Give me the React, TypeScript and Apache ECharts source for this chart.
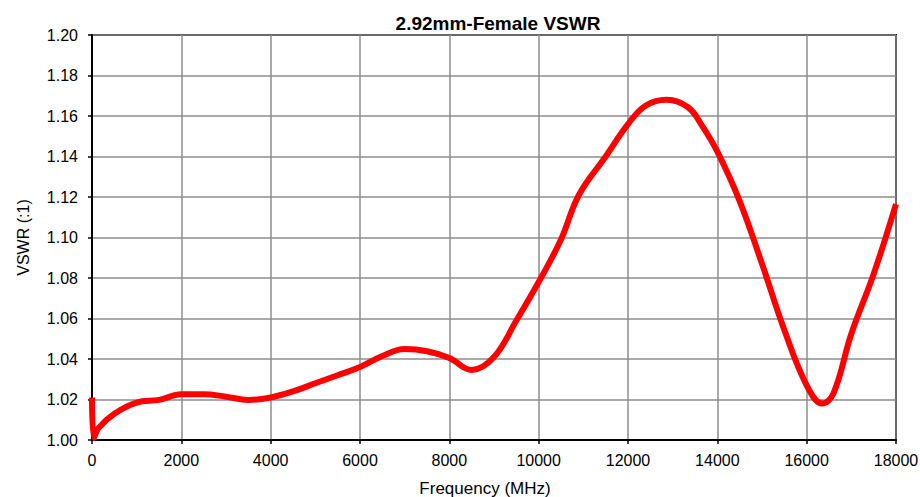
import React, { useEffect, useRef } from "react";
import * as echarts from "echarts";

const freqs = [0, 40, 150, 500, 1000, 1500, 2000, 2500, 3000, 3500, 4000, 4500, 5000, 5500, 6000, 6500, 7000, 7500, 8000, 8500, 9000, 9500, 10000, 10500, 10900, 11500, 12000, 12400, 12870, 13350, 13650, 14000, 14500, 15000, 15500, 16000, 16350, 16600, 17000, 17500, 18000];
const vswr = [1.021, 1.001, 1.006, 1.013, 1.0185, 1.0198, 1.0226, 1.0226, 1.0214, 1.0198, 1.021, 1.024, 1.028, 1.032, 1.036, 1.0415, 1.0449, 1.0438, 1.0405, 1.0346, 1.041, 1.059, 1.078, 1.099, 1.121, 1.140, 1.156, 1.1652, 1.168, 1.1642, 1.1555, 1.1424, 1.118, 1.087, 1.0543, 1.027, 1.018, 1.023, 1.0525, 1.082, 1.1165];

const titleText = "2.92mm-Female VSWR";
const xName = "Frequency (MHz)";
const yName = "VSWR (:1)";

export default function App() {
  const ref = useRef<HTMLDivElement>(null);
  useEffect(() => {
    document.body.style.margin = "0";
    const chart = echarts.init(ref.current!, undefined, { renderer: "svg" });
    const font = "Liberation Sans, Arial, sans-serif";
    chart.setOption({
      animation: false,
      backgroundColor: "#ffffff",
      title: {
        text: titleText,
        left: 493,
        top: 9,
        textAlign: "center",
        textStyle: { fontFamily: font, fontSize: 19, fontWeight: "bold", color: "#000" },
      },
      grid: { left: 92, right: 24, top: 35, bottom: 57, show: true, borderColor: "#000", borderWidth: 2, backgroundColor: "transparent", outerBoundsMode: "none", containLabel: false },
      xAxis: {
        type: "value",
        min: 0,
        max: 18000,
        interval: 2000,
        name: xName,
        nameLocation: "middle",
        nameGap: 40,
        nameTextStyle: { fontFamily: font, fontSize: 17, color: "#000", padding: [0, 18, 0, 0] },
        axisLine: { show: true, lineStyle: { color: "#000", width: 2 } },
        axisTick: { show: true, length: 4, inside: false, lineStyle: { color: "#000", width: 1.5 } },
        axisLabel: { fontFamily: font, fontSize: 16, color: "#000", margin: 12, formatter: (v: number) => String(v) },
        splitLine: { show: true, lineStyle: { color: "#8c8c8c", width: 1.5 } },
      },
      yAxis: {
        type: "value",
        min: 1.0,
        max: 1.2,
        interval: 0.02,
        name: yName,
        nameLocation: "middle",
        nameGap: 61,
        nameRotate: 90,
        nameTextStyle: { fontFamily: font, fontSize: 16, color: "#000" },
        axisLine: { show: true, lineStyle: { color: "#000", width: 2 } },
        axisTick: { show: true, length: 4, inside: false, lineStyle: { color: "#000", width: 1.5 } },
        axisLabel: { fontFamily: font, fontSize: 16, color: "#000", margin: 14, formatter: (v: number) => v.toFixed(2) },
        splitLine: { show: true, lineStyle: { color: "#8c8c8c", width: 1.5 } },
      },
      series: [
        {
          type: "line",
          data: freqs.map((f, i) => [f, vswr[i]]),
          smooth: 0.4,
          symbol: "none",
          lineStyle: { color: "#ff0000", width: 6 },
          clip: true,
        },
      ],
    });
    return () => chart.dispose();
  }, []);
  return <div ref={ref} style={{ width: 920, height: 497 }} />;
}
